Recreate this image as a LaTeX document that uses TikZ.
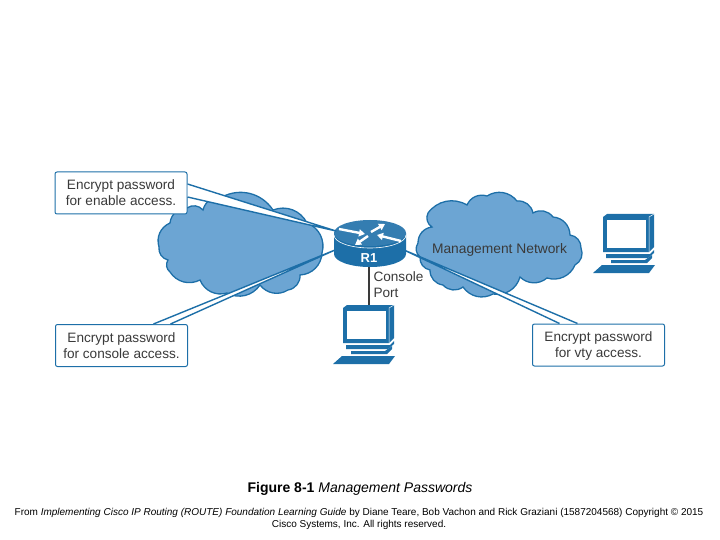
\documentclass[tikz,border=0pt]{standalone}
\usepackage{fontspec}
\setmainfont{Liberation Sans}
\usetikzlibrary{arrows.meta,calc}
\definecolor{ciscoblue}{HTML}{1D6FA8}
\definecolor{cloudblue}{HTML}{6CA5D3}
\definecolor{labelgrey}{HTML}{3A3A3A}
\tikzstyle{callout} = [rectangle, draw=ciscoblue, fill=white, line width=1pt, rounded corners=2pt, minimum width=132pt, minimum height=42pt, align=center, text depth=0pt, text=labelgrey, font=\fontsize{13.6}{16}\selectfont]
\tikzstyle{wedge} = [draw=ciscoblue, fill=white, line width=1.4pt, line join=round]
\tikzstyle{cloudy} = [draw=ciscoblue, fill=cloudblue, line width=1.3pt]
\tikzstyle{bump} = [bend left=42]
\tikzstyle{flow} = [draw=white, line width=2.4pt, -{Triangle[width=7pt,length=6pt]}]
\tikzset{
  pcunit/.pic={
    \fill[ciscoblue] (0,3) -- (4,0) -- (51,0) -- (51,33) -- (46,38) -- (0,38) -- cycle;
    \fill[white] (4,6) rectangle (43,34);
    \draw[white, line width=0.5pt] (46,38) -- (46,3) -- (51,0);
    \fill[ciscoblue] (3,40) -- (47,40) -- (51,36) -- (51,39) -- (45,44) -- (3,44) -- cycle;
    \fill[ciscoblue] (8,46) -- (42,46) -- (49,41) -- (49,44) -- (44,49) -- (8,49) -- cycle;
    \fill[ciscoblue] (-1,51) -- (52,51) -- (46,59) -- (-10,59) -- cycle;
  }
}
\begin{document}
\begin{tikzpicture}[x=1pt, y=-1pt]
  \useasboundingbox (0,0) rectangle (720,540);
  % clouds
  \path [cloudy] (170,223) to[bump] (187,208) to[bump] (203,210) to[bump] (222,197)
    to[bump] (273,210) to[bump] (307,223) to[bump] (322,253) to[bump] (300,275)
    to[bump] (288,290) to[bump] (260,285) to[bump] (227,293) to[bump] (200,280)
    to[bump] (170,272) to[bump] (168,260) to[bump] (159,247) to[bump] cycle;
  \path [cloudy] (418,243) to[bump] (432,227) to[bump] (428,213) to[bump] (467,205)
    to[bump] (487,196) to[bump] (517,201) to[bump] (533,213) to[bump] (553,217)
    to[bump] (570,235) to[bump] (581,248) to[bump] (575,265) to[bump] (547,278)
    to[bump] (520,277) to[bump] (493,294) to[bump] (463,287) to[bump] (443,285)
    to[bump] (430,270) to[bump] (420,257) to[bump] cycle;
  \node [text=labelgrey, font=\fontsize{13.8}{15}\selectfont] at (499.5,250) (mgmt) {Management Network};
  % router
  \coordinate (tipa) at (336,231);
  \coordinate (tipb) at (335,250);
  \coordinate (tipc) at (404,250);
  \fill [ciscoblue] (334,233) -- (334,254) arc [start angle=180, end angle=360, x radius=36pt, y radius=13pt] -- (406,233) -- cycle;
  \fill [ciscoblue!90!white] (370,233) ellipse [x radius=36pt, y radius=13pt];
  \draw [white, line width=0.6pt] (334,235) arc [start angle=180, end angle=360, x radius=36pt, y radius=13pt];
  \path [flow] (339,229) -- (365,234);
  \path [flow] (371,232) -- (385,224);
  \path [flow] (368,236) -- (355,245);
  \path [flow] (401,241) -- (377,235);
  \node [text=white, font=\bfseries\fontsize{13}{15}\selectfont] at (369,258) (r1) {R1};
  % callouts
  \node [callout] at (121,193) (enable) {Encrypt password\\for enable access.};
  \node [callout] at (121.5,345.5) (console) {Encrypt password\\for console access.};
  \node [callout] at (598.5,345) (vty) {Encrypt password\\for vty access.};
  \path [wedge] ($(enable.east)+(0,-9)$) -- (tipa) -- ($(enable.east)+(0,4)$);
  \path [wedge] ($(console.north)+(32,0)$) -- (tipb) -- ($(console.north)+(49,0)$);
  \path [wedge] ($(vty.north)+(-39,0)$) -- (tipc) -- ($(vty.north)+(-21,0)$);
  % terminals
  \pic at (343,305) {pcunit};
  \pic at (603,214) {pcunit};
  \coordinate (r1port) at (369,267);
  \coordinate (pcport) at (369,305);
  \draw [labelgrey, line width=1.4pt] (r1port) -- (pcport);
  \node [anchor=west, align=left, text=labelgrey, font=\fontsize{13.6}{16}\selectfont] at (370,285) (port) {Console\\Port};
  % caption
  \node [font=\fontsize{14}{15}\selectfont] at (360,488.5) (caption) {\textbf{Figure 8-1} \textit{Management Passwords}};
  \node [align=center, font=\fontsize{10}{12}\selectfont] at (359,519) (source) {From \textit{Implementing Cisco IP Routing (ROUTE) Foundation Learning Guide} by Diane Teare, Bob Vachon and Rick Graziani (1587204568) Copyright © 2015\\Cisco Systems, Inc. All rights reserved.};
\end{tikzpicture}
\end{document}
